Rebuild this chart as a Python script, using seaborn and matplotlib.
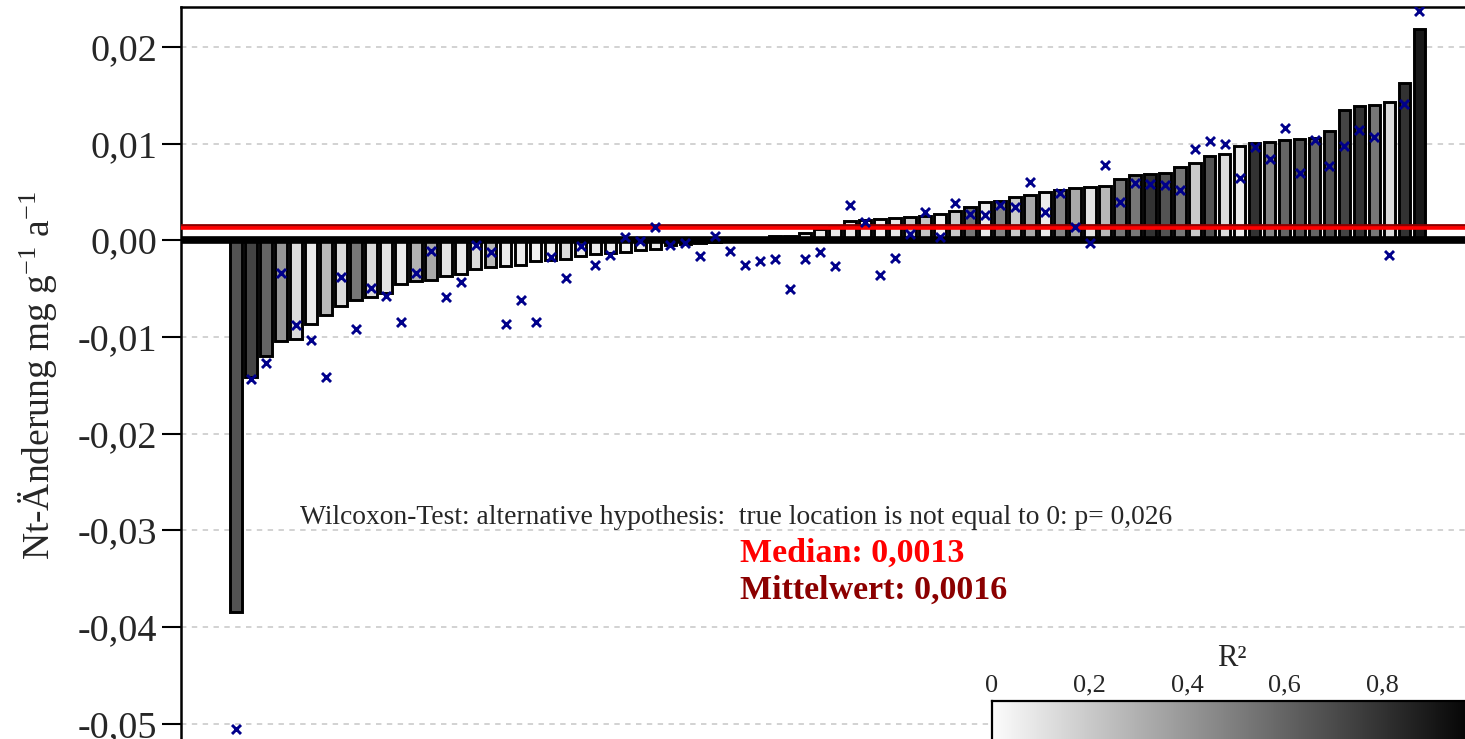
import numpy as np
import pandas as pd
import matplotlib
matplotlib.use("Agg")
import matplotlib.pyplot as plt
from matplotlib.colors import LinearSegmentedColormap, to_hex
import seaborn as sns

# Annual change of total nitrogen per site, sorted ascending
change = [
    -0.0384, -0.0141, -0.0120, -0.0104, -0.0102, -0.0087, -0.0077, -0.0068,
    -0.0062, -0.0059, -0.0055, -0.0045, -0.0042, -0.0041, -0.0037, -0.0035,
    -0.0030, -0.0028, -0.0027, -0.0025, -0.0021, -0.0020, -0.0019, -0.0016,
    -0.0014, -0.0013, -0.0012, -0.0010, -0.0009, -0.0005, -0.0004, -0.0003,
    -0.0002, -0.0001, -0.00005, 0.0002, 0.0004, 0.0005, 0.0008, 0.0012,
    0.0014, 0.0020, 0.0021, 0.0022, 0.0023, 0.0024, 0.0025, 0.0027,
    0.0030, 0.0034, 0.0040, 0.0041, 0.0045, 0.0047, 0.0050, 0.0052,
    0.0054, 0.0055, 0.0056, 0.0063, 0.0068, 0.0069, 0.0070, 0.0076,
    0.0080, 0.0087, 0.0089, 0.0098, 0.0101, 0.0102, 0.0104, 0.0105,
    0.0106, 0.0113, 0.0135, 0.0139, 0.0140, 0.0143, 0.0163, 0.0219,
]

# Coefficient of determination of each site's regression (bar shading)
r2 = [
    0.67, 0.73, 0.60, 0.40, 0.13, 0.07, 0.27, 0.13,
    0.53, 0.13, 0.10, 0.07, 0.30, 0.33, 0.10, 0.07,
    0.13, 0.27, 0.07, 0.07, 0.04, 0.07, 0.13, 0.07,
    0.07, 0.07, 0.04, 0.07, 0.07, 0.10, 0.10, 0.10,
    0.10, 0.10, 0.10, 0.10, 0.07, 0.10, 0.07, 0.07,
    0.07, 0.07, 0.07, 0.05, 0.08, 0.20, 0.22, 0.04,
    0.20, 0.53, 0.07, 0.47, 0.20, 0.33, 0.07, 0.47,
    0.33, 0.10, 0.27, 0.53, 0.53, 0.80, 0.67, 0.53,
    0.20, 0.67, 0.13, 0.07, 0.80, 0.47, 0.60, 0.67,
    0.60, 0.67, 0.73, 0.80, 0.53, 0.13, 0.80, 0.90,
]

# Alternative estimate per site (blue crosses)
alt_change = [
    -0.0506, -0.0143, -0.0127, -0.0034, -0.0088, -0.0103, -0.0141, -0.0038,
    -0.0092, -0.0049, -0.0058, -0.0085, -0.0034, -0.0011, -0.0059, -0.0043,
    -0.0005, -0.0012, -0.0087, -0.0062, -0.0084, -0.0017, -0.0039, -0.0006,
    -0.0025, -0.0015, 0.0003, -0.0001, 0.0014, -0.0005, -0.0003, -0.0016,
    0.0005, -0.0011, -0.0026, -0.0021, -0.0019, -0.0050, -0.0019, -0.0012,
    -0.0027, 0.0037, 0.0019, -0.0036, -0.0018, 0.0007, 0.0029, 0.0003,
    0.0039, 0.0027, 0.0026, 0.0037, 0.0035, 0.0060, 0.0029, 0.0049,
    0.0014, -0.0003, 0.0078, 0.0040, 0.0059, 0.0058, 0.0057, 0.0052,
    0.0094, 0.0103, 0.0100, 0.0064, 0.0097, 0.0084, 0.0116, 0.0070,
    0.0104, 0.0077, 0.0098, 0.0114, 0.0107, -0.0015, 0.0141, 0.0237,
]

median_val = 0.0013
mean_val = 0.0016
p_value = "0,026"

y_ticks = [-0.05, -0.04, -0.03, -0.02, -0.01, 0.00, 0.01, 0.02]
y_tick_labels = ["-0,05", "-0,04", "-0,03", "-0,02", "-0,01", "0,00", "0,01", "0,02"]
cb_ticks = [0, 0.2, 0.4, 0.6, 0.8]
cb_tick_labels = ["0", "0,2", "0,4", "0,6", "0,8"]

sns.set_style("ticks")
plt.rcParams["font.family"] = ["Liberation Serif", "DejaVu Serif"]
plt.rcParams["mathtext.fontset"] = "custom"
plt.rcParams["mathtext.rm"] = "Liberation Serif"
plt.rcParams["mathtext.it"] = "Liberation Serif:italic"

W, H = 1465, 739
fig = plt.figure(figsize=(W / 100, H / 100), dpi=100)

# main axes: left spine at x=181 px, top spine at y=7 px, running off right/bottom
ax = fig.add_axes([181 / W, 0.0, 1.0, 1 - 7 / H])

greys = LinearSegmentedColormap.from_list("r2grey", ["#fcfcfc", "#000000"])

n = len(change)
df = pd.DataFrame({"site": np.arange(n), "change": change,
                   "alt": alt_change, "r2": r2})
pal = {i: to_hex(greys(v)) for i, v in zip(df["site"], df["r2"])}

# gridlines
for t in y_ticks:
    ax.axhline(t, color="#cfcfcf", lw=1.3, ls=(0, (3, 3)), zorder=0)

sns.barplot(data=df, x="site", y="change", hue="site", palette=pal,
            dodge=False, legend=False, errorbar=None, width=0.78,
            edgecolor="black", linewidth=2.1, ax=ax, zorder=2)

ax.axhline(0, color="black", lw=5.5, zorder=3)
ax.axhline(mean_val, color="#8b0000", lw=2.0, zorder=3)
ax.axhline(median_val, color="#ff0000", lw=2.6, zorder=3)

sns.scatterplot(data=df, x="site", y="alt", marker="x", color="#00008b",
                s=42, linewidth=2.1, ax=ax, zorder=5, legend=False)

# 14.98 px per bar; axes spans 1465 px starting at x=181
ax.set_xlim(-3.67, 94.13)
ax.set_ylim(-0.05159, 0.02414)
ax.set_yticks(y_ticks)
ax.set_yticklabels(y_tick_labels, fontsize=27.5)
ax.tick_params(axis="y", length=14, width=1.5, pad=3, color="black")
ax.set_xticks([])
ax.set_xlabel("")
ax.set_ylabel("")
for side in ("right", "bottom"):
    ax.spines[side].set_visible(False)
for side in ("left", "top"):
    ax.spines[side].set_color("black")
    ax.spines[side].set_linewidth(1.8)

fig.text(38 / W, 1 - 375 / H, r"Nt-Änderung mg g$^{\mathrm{-1}}$ a$^{\mathrm{-1}}$",
         fontsize=27, rotation=90, ha="center", va="center")

fig.text(300 / W, 1 - 517 / H,
         "Wilcoxon-Test: alternative hypothesis:  true location is not equal to 0: p= " + p_value,
         fontsize=19.8, ha="left", va="center")
fig.text(740 / W, 1 - 553 / H, "Median: " + f"{median_val:.4f}".replace(".", ","),
         fontsize=24.5, fontweight="bold", color="#ff0000", ha="left", va="center")
fig.text(740 / W, 1 - 590 / H, "Mittelwert: " + f"{mean_val:.4f}".replace(".", ","),
         fontsize=24.5, fontweight="bold", color="#8b0000", ha="left", va="center")

# R² colour bar
cax = fig.add_axes([992 / W, -0.06, (1480 - 992) / W, 0.06 + 1 - 701 / H])
grad = np.linspace(0, 1, 256)[None, :]
cax.imshow(grad, cmap=greys, aspect="auto", extent=[0, 1, 0, 1], vmin=0, vmax=1)
cax.set_xlim(0, 1)
cax.set_ylim(0, 1)
cax.xaxis.tick_top()
cax.set_xticks(cb_ticks)
cax.set_xticklabels(cb_tick_labels, fontsize=19)
cax.tick_params(axis="x", length=0, pad=3)
cax.set_yticks([])
for side in ("left", "top"):
    cax.spines[side].set_linewidth(1.6)
    cax.spines[side].set_color("black")
fig.text(1232 / W, 1 - 658 / H, "R²", fontsize=22, ha="center", va="center")

fig.savefig("out.png", dpi=100)
